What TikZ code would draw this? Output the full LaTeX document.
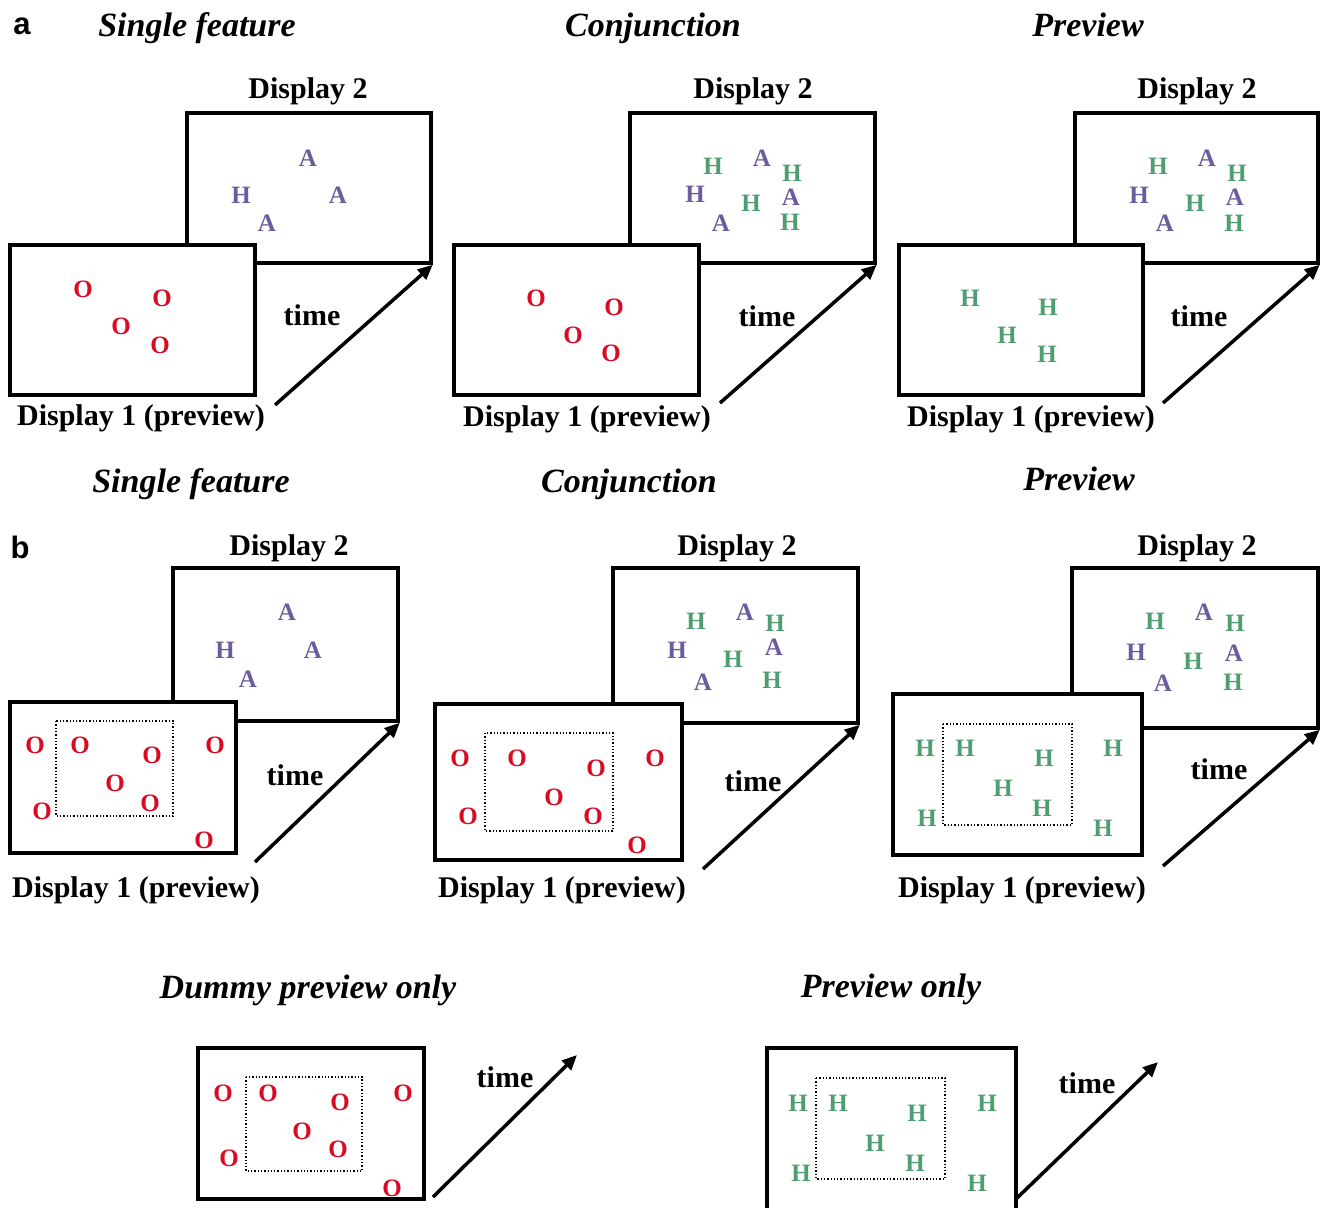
\documentclass[tikz,border=0pt]{standalone}
\usepackage{fontspec}
\setmainfont{Liberation Serif}
\newfontfamily\panelfont{Liberation Sans}
\usetikzlibrary{arrows.meta}
\definecolor{ored}{HTML}{DA0A22}
\definecolor{hpurp}{HTML}{6C5C9E}
\definecolor{hgreen}{HTML}{4F9E72}
\begin{document}
\begin{tikzpicture}[x=1pt,y=-1pt,
  box/.style={draw, line width=3.5pt, fill=white, inner sep=0pt},
  dotbox/.style={draw, dotted, line width=1.3pt},
  ttl/.style={font=\fontsize{34}{40}\selectfont\bfseries\itshape, inner sep=0pt, text height=24pt, text depth=8pt},
  lbl/.style={font=\fontsize{30}{36}\selectfont\bfseries, inner sep=0pt},
  pnl/.style={font=\fontsize{31}{36}\selectfont\panelfont\bfseries, inner sep=0pt},
  ltr/.style={font=\fontsize{25}{30}\selectfont\bfseries, inner sep=0pt},
  rl/.style={ltr, text=ored},
  pl/.style={ltr, text=hpurp},
  gl/.style={ltr, text=hgreen},
  arr/.style={line width=3.5pt, -{Triangle[length=15pt,width=13pt]}}]
\useasboundingbox (0,0) rectangle (1322,1207);

% ---------------- panel labels and titles
\node[pnl] (pa) at (22,26) {a};
\node[pnl] (pb) at (20,547) {b};
\node[ttl] (ta1) at (197,29) {Single feature};
\node[ttl] (ta2) at (653,29) {Conjunction};
\node[ttl] (ta3) at (1088,29) {Preview};
\node[ttl] (tb1) at (191,484) {Single feature};
\node[ttl] (tb2) at (629,484) {Conjunction};
\node[ttl] (tb3) at (1079,482) {Preview};
\node[ttl] (tc1) at (308,990) {Dummy preview only};
\node[ttl] (tc2) at (891,989) {Preview only};

% ================= row a
% --- single feature
\node[box, minimum width=244pt, minimum height=150pt] (a1d2) at (309,188) {};
\node[lbl] (a1l2) at (308,91) {Display 2};
\foreach \x/\y/\t [count=\i] in {308/158/A, 241/195/H, 338/195/A, 267/223/A}
  \node[pl] (a1p\i) at (\x,\y) {\t};
\node[box, minimum width=245pt, minimum height=150pt] (a1d1) at (132.5,320) {};
\foreach \x/\y [count=\i] in {83/289, 162/298, 121/326, 160/345}
  \node[rl] (a1o\i) at (\x,\y) {O};
\node[lbl] (a1l1) at (141,418) {Display 1 (preview)};
\node[lbl] (a1t) at (312,315) {time};
\coordinate (a1s) at (275,405);
\draw[arr] (a1s) -- (a1d2.south east);

% --- conjunction
\node[box, minimum width=245pt, minimum height=150pt] (a2d2) at (752.5,188) {};
\node[lbl] (a2l2) at (753,91) {Display 2};
\foreach \x/\y [count=\i] in {713/166, 792/173, 751/203, 790/222}
  \node[gl] (a2g\i) at (\x,\y) {H};
\node[pl] (a2ph) at (695,194) {H};
\foreach \x/\y [count=\i] in {762/158, 791/197, 721/223}
  \node[pl] (a2pa\i) at (\x,\y) {A};
\node[box, minimum width=245pt, minimum height=150pt] (a2d1) at (576.5,320) {};
\foreach \x/\y [count=\i] in {536/298, 614/307, 573/335, 611/353}
  \node[rl] (a2o\i) at (\x,\y) {O};
\node[lbl] (a2l1) at (587,419) {Display 1 (preview)};
\node[lbl] (a2t) at (767,316) {time};
\coordinate (a2s) at (720,403);
\draw[arr] (a2s) -- (a2d2.south east);

% --- preview
\node[box, minimum width=243pt, minimum height=150pt] (a3d2) at (1196.5,188) {};
\node[lbl] (a3l2) at (1197,91) {Display 2};
\foreach \x/\y [count=\i] in {1158/166, 1237/173, 1195/203, 1234/223}
  \node[gl] (a3g\i) at (\x,\y) {H};
\node[pl] (a3ph) at (1139,195) {H};
\foreach \x/\y [count=\i] in {1207/158, 1235/197, 1165/223}
  \node[pl] (a3pa\i) at (\x,\y) {A};
\node[box, minimum width=244pt, minimum height=150pt] (a3d1) at (1021,320) {};
\foreach \x/\y [count=\i] in {970/298, 1048/307, 1007/335, 1047/354}
  \node[gl] (a3h\i) at (\x,\y) {H};
\node[lbl] (a3l1) at (1031,419) {Display 1 (preview)};
\node[lbl] (a3t) at (1199,316) {time};
\coordinate (a3s) at (1163,403);
\draw[arr] (a3s) -- (a3d2.south east);

% ================= row b
% --- single feature
\node[box, minimum width=225pt, minimum height=153pt] (b1d2) at (285.5,644.5) {};
\node[lbl] (b1l2) at (289,548) {Display 2};
\foreach \x/\y/\t [count=\i] in {287/612/A, 225/650/H, 313/650/A, 248/679/A}
  \node[pl] (b1p\i) at (\x,\y) {\t};
\node[box, minimum width=226pt, minimum height=151pt] (b1d1) at (123,777.5) {};
\draw[dotbox] (56,721) rectangle (173,816);
\foreach \x/\y [count=\i] in {35/745, 80/745, 152/755, 215/745, 115/783, 42/811, 150/803, 204/840}
  \node[rl] (b1o\i) at (\x,\y) {O};
\node[lbl] (b1l1) at (136,890) {Display 1 (preview)};
\node[lbl] (b1t) at (295,775) {time};
\coordinate (b1s) at (255,862);
\draw[arr] (b1s) -- (b1d2.south east);

% --- conjunction
\node[box, minimum width=245pt, minimum height=155pt] (b2d2) at (735.5,645.5) {};
\node[lbl] (b2l2) at (737,548) {Display 2};
\foreach \x/\y [count=\i] in {696/621, 775/623, 733/659, 772/680}
  \node[gl] (b2g\i) at (\x,\y) {H};
\node[pl] (b2ph) at (677,650) {H};
\foreach \x/\y [count=\i] in {745/612, 774/647, 703/682}
  \node[pl] (b2pa\i) at (\x,\y) {A};
\node[box, minimum width=247pt, minimum height=156pt] (b2d1) at (558.5,782) {};
\draw[dotbox] (485,733) rectangle (613,831);
\foreach \x/\y [count=\i] in {460/758, 517/758, 596/768, 655/758, 554/797, 468/816, 593/816, 637/845}
  \node[rl] (b2o\i) at (\x,\y) {O};
\node[lbl] (b2l1) at (562,890) {Display 1 (preview)};
\node[lbl] (b2t) at (753,781) {time};
\coordinate (b2s) at (703,869);
\draw[arr] (b2s) -- (b2d2.south east);

% --- preview
\node[box, minimum width=246pt, minimum height=160pt] (b3d2) at (1195,648) {};
\node[lbl] (b3l2) at (1197,548) {Display 2};
\foreach \x/\y [count=\i] in {1155/621, 1235/623, 1193/661, 1233/682}
  \node[gl] (b3g\i) at (\x,\y) {H};
\node[pl] (b3ph) at (1136,652) {H};
\foreach \x/\y [count=\i] in {1204/612, 1234/653, 1163/683}
  \node[pl] (b3pa\i) at (\x,\y) {A};
\node[box, minimum width=249pt, minimum height=161pt] (b3d1) at (1017.5,774.5) {};
\draw[dotbox] (943,724) rectangle (1072,825);
\foreach \x/\y [count=\i] in {925/748, 965/748, 1044/758, 1113/748, 1003/788, 927/818, 1042/808, 1103/828}
  \node[gl] (b3h\i) at (\x,\y) {H};
\node[lbl] (b3l1) at (1022,890) {Display 1 (preview)};
\node[lbl] (b3t) at (1219,769) {time};
\coordinate (b3s) at (1163,866);
\draw[arr] (b3s) -- (b3d2.south east);

% ================= bottom row
% --- dummy preview only
\node[box, minimum width=226pt, minimum height=151pt] (c1d) at (311,1123.5) {};
\draw[dotbox] (246,1077) rectangle (362,1171);
\foreach \x/\y [count=\i] in {223/1093, 268/1093, 340/1102, 403/1093, 302/1131, 229/1158, 338/1149, 392/1188}
  \node[rl] (c1o\i) at (\x,\y) {O};
\node[lbl] (c1t) at (505,1077) {time};
\coordinate (c1s) at (433,1197);
\coordinate (c1e) at (577,1055);
\draw[arr] (c1s) -- (c1e);

% --- preview only
\node[box, minimum width=249pt, minimum height=167pt] (c2d) at (891.5,1131.5) {};
\draw[dotbox] (816,1078) rectangle (945,1179);
\foreach \x/\y [count=\i] in {798/1103, 838/1103, 917/1113, 987/1103, 875/1143, 801/1173, 915/1163, 977/1183}
  \node[gl] (c2h\i) at (\x,\y) {H};
\node[lbl] (c2t) at (1087,1083) {time};
\coordinate (c2s) at (1017,1198);
\coordinate (c2e) at (1158,1062);
\draw[arr] (c2s) -- (c2e);
\end{tikzpicture}
\end{document}
